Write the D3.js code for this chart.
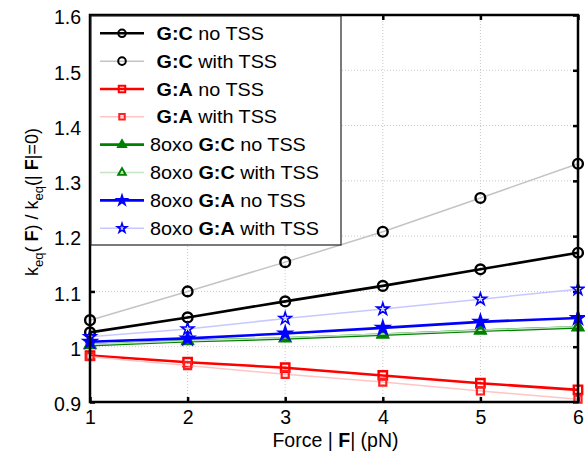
<!DOCTYPE html>
<html><head><meta charset="utf-8">
<script src="https://cdn.jsdelivr.net/npm/d3@7"></script>
<style>
body{margin:0;background:#fff;}
text{font-family:"Liberation Sans",Arial,sans-serif;}
</style></head>
<body><svg id="c" width="585" height="454"></svg>
<script>
const forces = [1, 2, 3, 4, 5, 6];
const xTicks = [1, 2, 3, 4, 5, 6];
const yTicks = [0.9, 1, 1.1, 1.2, 1.3, 1.4, 1.5, 1.6];
const yTickLabels = ["0.9", "1", "1.1", "1.2", "1.3", "1.4", "1.5", "1.6"];

const gcNo      = [1.026, 1.053, 1.082, 1.110, 1.140, 1.170];
const gcWith    = [1.048, 1.100, 1.153, 1.208, 1.269, 1.331];
const gaNo      = [0.984, 0.972, 0.962, 0.948, 0.934, 0.922];
const gaWith    = [0.982, 0.966, 0.950, 0.936, 0.920, 0.905];
const oxoGcNo   = [1.003, 1.010, 1.015, 1.022, 1.029, 1.035];
const oxoGcWith = [1.004, 1.011, 1.016, 1.023, 1.030, 1.036];
const oxoGaNo   = [1.009, 1.015, 1.024, 1.034, 1.045, 1.052];
const oxoGaWith = [1.018, 1.032, 1.051, 1.068, 1.086, 1.104];

const series = [
  {pre:"", bold:"G:C", post:" no TSS", vals:gcNo, line:"#000000", mark:"#000000", sym:d3.symbolCircle, size:75, lw:2.6, fill:"none", sw:2.4},
  {pre:"", bold:"G:C", post:" with TSS", vals:gcWith, line:"#c4c4c4", mark:"#000000", sym:d3.symbolCircle, size:75, lw:1.5, fill:"none", sw:2.4},
  {pre:"", bold:"G:A", post:" no TSS", vals:gaNo, line:"#ff0000", mark:"#ff0000", sym:d3.symbolSquare, size:70, lw:2.6, fill:"none", sw:2.4},
  {pre:"", bold:"G:A", post:" with TSS", vals:gaWith, line:"#ffc4c4", mark:"#ff2020", sym:d3.symbolSquare, size:50, lw:1.5, fill:"none", sw:2.2},
  {pre:"8oxo ", bold:"G:C", post:" no TSS", vals:oxoGcNo, line:"#008000", mark:"#008000", sym:d3.symbolTriangle, size:45, lw:2.8, fill:"#008000", sw:2.4},
  {pre:"8oxo ", bold:"G:C", post:" with TSS", vals:oxoGcWith, line:"#c4e4c4", mark:"#008000", sym:d3.symbolTriangle, size:40, lw:1.5, fill:"none", sw:2.2},
  {pre:"8oxo ", bold:"G:A", post:" no TSS", vals:oxoGaNo, line:"#0000ff", mark:"#0000ff", sym:d3.symbolStar, size:40, lw:2.6, fill:"#0000ff", sw:2.4},
  {pre:"8oxo ", bold:"G:A", post:" with TSS", vals:oxoGaWith, line:"#c8c8ff", mark:"#0000ff", sym:d3.symbolStar, size:45, lw:1.5, fill:"none", sw:1.6}
];

const svg = d3.select("#c");
const L = 90, R = 578, T = 15, B = 402;
const x = d3.scaleLinear().domain([1, 6]).range([L, R]);
const y = d3.scaleLinear().domain([0.9, 1.6]).range([B, T]);

// grid
const grid = svg.append("g");
grid.selectAll(".gx").data(xTicks.slice(1, -1)).join("line")
  .attr("x1", d => x(d)).attr("x2", d => x(d)).attr("y1", T).attr("y2", B)
  .attr("stroke", "#c8c8c8").attr("stroke-width", 1).attr("stroke-dasharray", "1,2");
grid.selectAll(".gy").data(yTicks.slice(1, -1)).join("line")
  .attr("y1", d => y(d)).attr("y2", d => y(d)).attr("x1", L).attr("x2", R)
  .attr("stroke", "#c8c8c8").attr("stroke-width", 1).attr("stroke-dasharray", "1,2");

// axes
const xAxis = d3.axisBottom(x).tickValues(xTicks).tickSize(-5).tickPadding(8).tickFormat(d3.format("d"));
const yAxis = d3.axisLeft(y).tickValues(yTicks).tickSize(-5).tickPadding(9).tickFormat((d, i) => yTickLabels[i]);
const gx = svg.append("g").attr("transform", `translate(0,${B})`).call(xAxis);
const gy = svg.append("g").attr("transform", `translate(${L},0)`).call(yAxis);
[gx, gy].forEach(g => {
  g.select(".domain").remove();
  g.selectAll(".tick line").attr("stroke", "#000").attr("stroke-width", 2.5);
  g.selectAll(".tick text").attr("font-size", 19.5).attr("fill", "#000")
   .attr("font-family", "Liberation Sans, Arial, sans-serif");
});
gx.selectAll(".tick text").attr("dy", "0.7em");
gy.selectAll(".tick text").attr("dy", "0.45em");
// top & right ticks
svg.append("g").attr("transform", `translate(0,${T})`).call(d3.axisTop(x).tickValues(xTicks).tickSize(-5).tickFormat(""))
  .call(g => { g.select(".domain").remove(); g.selectAll(".tick line").attr("stroke", "#000").attr("stroke-width", 2.5); });
svg.append("g").attr("transform", `translate(${R},0)`).call(d3.axisRight(y).tickValues(yTicks).tickSize(-5).tickFormat(""))
  .call(g => { g.select(".domain").remove(); g.selectAll(".tick line").attr("stroke", "#000").attr("stroke-width", 2.5); });

// series
const line = d3.line().x((d, i) => x(forces[i])).y(d => y(d));
const plot = svg.append("g");
series.forEach(s => {
  plot.append("path").datum(s.vals).attr("d", line)
    .attr("fill", "none").attr("stroke", s.line).attr("stroke-width", s.lw);
  plot.selectAll(null).data(s.vals).join("path")
    .attr("transform", (d, i) => `translate(${x(forces[i])},${y(d)})`)
    .attr("d", d3.symbol().type(s.sym).size(s.size))
    .attr("fill", s.fill).attr("stroke", s.mark).attr("stroke-width", s.sw);
});

// frame
svg.append("rect").attr("x", L).attr("y", T).attr("width", R - L).attr("height", B - T)
  .attr("fill", "none").attr("stroke", "#000").attr("stroke-width", 2.5);

// legend
const lg = svg.append("g");
lg.append("rect").attr("x", 91).attr("y", 16).attr("width", 250).attr("height", 229)
  .attr("fill", "#fff").attr("stroke", "#222").attr("stroke-width", 1.2);
series.forEach((s, i) => {
  const yy = 33.3 + i * 27.85;
  lg.append("line").attr("x1", 100).attr("x2", 144).attr("y1", yy).attr("y2", yy)
    .attr("stroke", s.line).attr("stroke-width", s.lw);
  lg.append("path").attr("transform", `translate(122,${yy})`)
    .attr("d", d3.symbol().type(s.sym).size(s.size * 0.6))
    .attr("fill", s.fill).attr("stroke", s.mark).attr("stroke-width", Math.min(s.sw, 2));
  const tx = s.pre ? 150 : 156.5;
  const t = lg.append("text").attr("transform", `translate(${tx},${yy + 6.5}) scale(1.1,1)`)
    .attr("font-size", 18).attr("fill", "#000");
  if (s.pre) t.append("tspan").text(s.pre);
  t.append("tspan").attr("font-weight", "bold").text(s.bold);
  t.append("tspan").text(s.post);
});

// x label
const xl = svg.append("text").attr("x", 335.5).attr("y", 447).attr("text-anchor", "middle")
  .attr("font-size", 19.5).attr("fill", "#000");
xl.append("tspan").text("Force | ");
xl.append("tspan").attr("font-weight", "bold").text("F");
xl.append("tspan").text("| (pN)");

// y label
const yl = svg.append("text").attr("transform", "translate(38,202) rotate(-90)")
  .attr("text-anchor", "middle").attr("font-size", 18).attr("fill", "#000");
yl.append("tspan").text("k");
yl.append("tspan").attr("font-size", 13).attr("dy", 5).text("eq");
yl.append("tspan").attr("dy", -5).text("( ");
yl.append("tspan").attr("font-weight", "bold").text("F");
yl.append("tspan").text(") / k");
yl.append("tspan").attr("font-size", 13).attr("dy", 5).text("eq");
yl.append("tspan").attr("dy", -5).text("(| ");
yl.append("tspan").attr("font-weight", "bold").text("F");
yl.append("tspan").text("|=0)");
</script></body></html>
